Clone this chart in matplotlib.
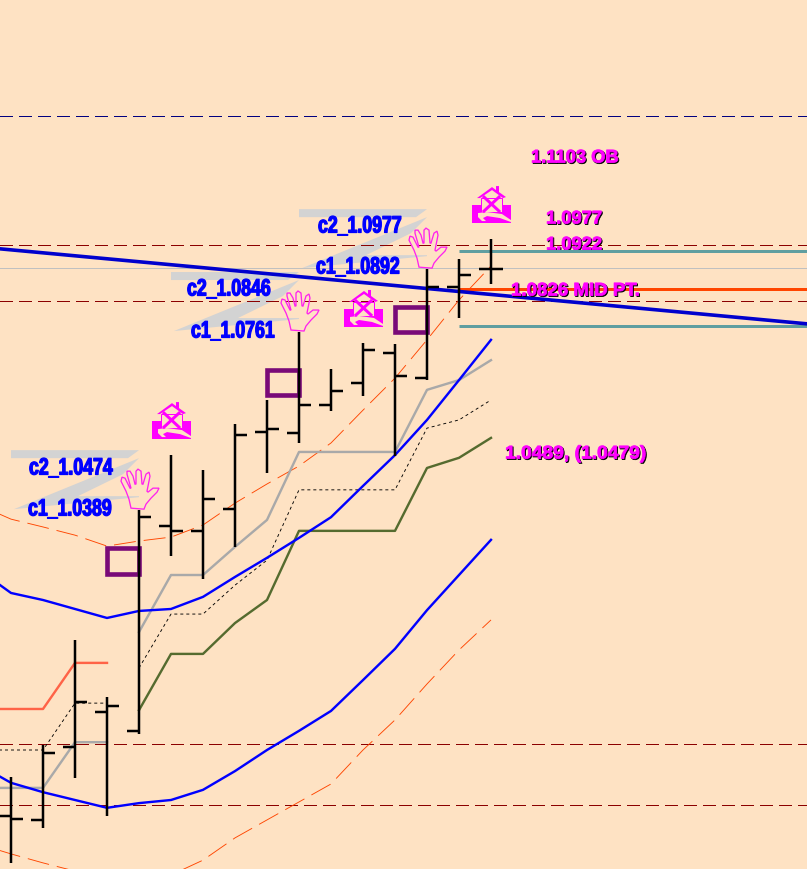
import matplotlib
matplotlib.use('Agg')

import matplotlib.pyplot as plt
import matplotlib.patheffects as pe
from matplotlib.patches import Polygon, Rectangle
from matplotlib.transforms import Affine2D
import numpy as np

plt.rcParams['lines.scale_dashes'] = False

W, H = 807, 869
PX = 0.72  # one pixel in points at dpi 100

# ohlc bars, index 0 is the leftmost bar
bar_idx = np.arange(16)
highs = [.9576, .9658, .9927, .9781, 1.0259, 1.0400, 1.0362, 1.0480, 1.0541, 1.0715, 1.0620, 1.0687, 1.0684, 1.0876, 1.0902, 1.0953]
lows = [.9356, .9445, .9573, .9476, .9686, 1.0142, 1.0083, 1.0165, 1.0354, 1.0431, 1.0513, 1.0551, 1.0398, 1.0592, 1.0751, 1.0838]
opens = [.9476, .9466, .9653, .9742, .9694, 1.0218, 1.0206, 1.0262, 1.0459, 1.0457, 1.0528, 1.0585, 1.0661, 1.0597, 1.0830, 1.0876]
closes = [.9468, .9637, .9768, .9758, 1.0241, 1.0206, 1.0288, 1.0452, 1.0467, 1.0528, 1.0564, 1.0669, 1.0602, 1.0830, 1.0861, 1.0876]

# indicator lines, first point is one bar off the chart
line_idx = np.arange(-1, 16)
blue_upper = [1.0106, 1.0047, 1.0029, 1.0006, .9983, 1.0001, 1.0006, 1.0037, 1.0088, 1.0137, 1.0188, 1.0241, 1.0321, 1.0400, 1.0490, 1.0592, 1.0695]
blue_lower = [.9607, .9561, .9537, .9517, .9497, .9509, .9517, .9543, .9591, .9645, .9694, .9745, .9824, .9904, 1.0003, 1.0093, 1.0183]
env_upper = [1.0272, 1.0236, 1.0216, 1.0195, 1.0167, 1.0180, 1.0190, 1.0221, 1.0277, 1.0326, 1.0372, 1.0431, 1.0515, 1.0597, 1.0695, 1.0797, 1.0884]
env_lower = [.9404, .9379, .9356, .9335, .9317, .9310, .9325, .9363, .9420, .9466, .9512, .9558, .9645, .9722, .9814, .9901, .9978]

# stepped lines have a break between bar 3 and bar 4
old_idx = np.arange(-1, 4)
new_idx = np.arange(4, 16)
gray_old = [.9548, .9548, .9548, .9665, .9665]
gray_new = [.9947, 1.0093, 1.0093, 1.0165, 1.0234, 1.0408, 1.0408, 1.0408, 1.0408, 1.0567, 1.0592, 1.0643]
dotted_old = [.9645, .9645, .9645, .9765, .9765]
dotted_new = [.9855, .9993, .9993, 1.0067, 1.0131, 1.0311, 1.0311, 1.0311, 1.0311, 1.0469, 1.0490, 1.0541]
tomato_old = [.9750, .9750, .9750, .9868, .9868]
green_new = [.9747, .9891, .9891, .9970, 1.0029, 1.0206, 1.0206, 1.0206, 1.0206, 1.0367, 1.0393, 1.0444]

# horizontal levels
navy_level = 1.1268
red_levels = [1.0938, 1.0794, .9660, .9504]
silver_level = 1.0879
teal_levels = [1.0922, 1.0730]
mid_level = 1.0826
trend_prices = [1.0928, 1.0736]

# purple boxes
box_idx = [4, 9, 13]
box_top = [1.0162, 1.0618, 1.0779]
box_bot = [1.0096, 1.0554, 1.0715]

# marks anchored on bars
hand_bars = [4, 9, 13]
house_bars = [5, 11, 15]

c_labels = [('c2_1.0474', 29, 468), ('c1_1.0389', 28, 509),
            ('c2_1.0846', 187, 289), ('c1_1.0761', 191, 331),
            ('c2_1.0977', 318, 226), ('c1_1.0892', 316, 267)]
level_labels = [('1.1103 OB', 531, 158), ('1.0977', 546, 219),
                ('1.0826 MID PT.', 511, 291), ('1.0489, (1.0479)', 505, 454)]

# icon outlines, pixels from the anchor, y goes down
hand_shape = [(-8, -2), (-10, -11), (-13, -19), (-18, -29), (-17, -33), (-14, -32), (-9, -22), (-8, -22),
              (-12, -36), (-12, -39), (-9, -39), (-6, -34), (-4, -26), (-3, -26), (-3, -39), (-1, -41),
              (2, -39), (3, -26), (4, -26), (7, -36), (10, -38), (11, -34), (8, -19), (9, -18),
              (14, -22), (20, -22), (18, -18), (12, -12), (7, -6), (5, -1)]
wedge_top = [(-128, -60), (0, -60), (-11, -52), (-128, -52)]
wedge_low = [(0, -52), (-125, -1), (0, -13), (0, -14), (-61, -14), (-16, -36)]
house_roof = [(-14, -25), (1, -36), (5, -33), (5, -37), (8, -37), (8, -31), (15, -26), (12, -25), (1, -33), (-11, -25)]
house_body = [(-10, -25), (11, -25), (11, -11), (-10, -11)]
house_road = [(-13, -10), (-4, -11), (11, -9), (20, -3), (20, -1), (9, -5), (-4, -7), (-8, -5), (-5, -2), (-9, -2), (-13, -6)]

BG = '#FEE2C3'


class Squeezed(pe.AbstractPathEffect):
    # draws the text path narrower, thicker and maybe shifted
    def __init__(self, sx=1.0, lw=0.0, color=None, shift=(0, 0)):
        super().__init__()
        self.sx, self.lw, self.color, self.shift = sx, lw, color, shift

    def draw_path(self, renderer, gc, tpath, affine, rgbFace):
        gc0 = renderer.new_gc()
        gc0.copy_properties(gc)
        col = self.color if self.color is not None else rgbFace
        gc0.set_foreground(col)
        gc0.set_linewidth(self.lw)
        tr = Affine2D().scale(self.sx, 1) + affine + Affine2D().translate(*self.shift)
        renderer.draw_path(gc0, tpath, tr, col)
        gc0.restore()


fig = plt.figure(figsize=(W / 100, H / 100), dpi=100, facecolor=BG)
ax = fig.add_axes([0, 0, 1, 1], facecolor=BG)
ax.set_xlim(-11 / 32, 796 / 32)
ax.set_ylim(1.1565 - H * 0.000256, 1.1565)
ax.axis('off')


def anchor(i, price, up=0):
    px, py = ax.transData.transform((i, price))
    return Affine2D().scale(1, -1).translate(px, py + up)


def magenta_label(txt, x, y, sx=1.0, z=8):
    effects = [Squeezed(sx, 0.6, (0, 0, 0), (1, -1)), Squeezed(sx, 0.6)]
    ax.text(x, y, txt, color='#FF00FF', fontsize=13.2, fontweight='bold', ha='left', va='center',
            family='Liberation Sans', transform=screen, zorder=z, path_effects=effects)


screen = Affine2D().scale(1, -1).translate(0, H)

for i in hand_bars:
    tr = anchor(i, highs[i])
    ax.add_patch(Polygon(wedge_top, closed=True, fc='#D3D3D3', ec='none', transform=tr, zorder=1))
    ax.add_patch(Polygon(wedge_low, closed=True, fc='#D3D3D3', ec='none', transform=tr, zorder=1))

xr = ax.get_xlim()
dash = (0, (13 * PX, 6 * PX))
long_dash = (0, (22 * PX, 8 * PX))
ax.axhline(navy_level, color='#000080', ls=dash, lw=1 * PX, antialiased=False, zorder=2)
for lvl in red_levels:
    ax.axhline(lvl, color='#8B0000', ls=dash, lw=1 * PX, antialiased=False, zorder=2)
ax.axhline(silver_level, color='#C0C0C0', lw=1 * PX, antialiased=False, zorder=2)

ax.plot(line_idx, env_upper, color='#FF4500', ls=long_dash, lw=0.9 * PX, zorder=3)
ax.plot(line_idx, env_lower, color='#FF4500', ls=long_dash, lw=0.9 * PX, zorder=3)

for xs, ys in [(old_idx, gray_old), (new_idx, gray_new)]:
    ax.plot(xs, ys, color='#A9A9A9', lw=2.4 * PX, zorder=3)
for xs, ys in [(old_idx, dotted_old), (new_idx, dotted_new)]:
    ax.plot(xs, ys, color='black', ls=(0, (3 * PX, 3 * PX)), lw=0.9 * PX, zorder=3)
ax.plot(old_idx, tomato_old, color='#FF6347', lw=2.4 * PX, zorder=3)
ax.plot(new_idx, green_new, color='#556B2F', lw=2.4 * PX, zorder=3)

ax.plot(line_idx, blue_upper, color='#0000FF', lw=2.4 * PX, zorder=4)
ax.plot(line_idx, blue_lower, color='#0000FF', lw=2.4 * PX, zorder=4)

ax.hlines(mid_level, 14, xr[1], color='#FF4500', lw=3 * PX, zorder=4)
ax.hlines(teal_levels, 14, xr[1], color='#5F9EA0', lw=3 * PX, zorder=5)
ax.plot(xr, trend_prices, color='#0000CD', lw=3.6 * PX, zorder=5)

for i, top, bot in zip(box_idx, box_top, box_bot):
    ax.add_patch(Rectangle((i - 1, bot), 1, top - bot, fc='none', ec='#7A0A78', lw=4.6 * PX, zorder=5))

ax.vlines(bar_idx, lows, highs, color='black', lw=2.5 * PX, zorder=6)
ax.hlines(opens, bar_idx - 0.375, bar_idx, color='black', lw=2.5 * PX, zorder=6)
ax.hlines(closes, bar_idx, bar_idx + 0.375, color='black', lw=2.5 * PX, zorder=6)

for i in hand_bars:
    ax.add_patch(Polygon(hand_shape, closed=True, fc='none', ec='#FF22EE', lw=1.3 * PX, transform=anchor(i, highs[i]), zorder=7))

for i in house_bars:
    tr = anchor(i, highs[i], up=16)
    ax.add_patch(Rectangle((-19, -18), 39, 18, fc='#FF00FF', ec='none', transform=tr, zorder=7))
    ax.add_patch(Polygon(house_body, closed=True, fc=BG, ec='#FF00FF', lw=1 * PX, transform=tr, zorder=7))
    ax.add_patch(Polygon(house_road, closed=True, fc=BG, ec='none', transform=tr, zorder=7))
    ax.add_patch(Polygon(house_roof, closed=True, fc='#FF00FF', ec='none', transform=tr, zorder=7))
    ax.plot([-7, 8], [-26, -12], color='#FF00FF', lw=3 * PX, transform=tr, zorder=7)
    ax.plot([8, -7], [-26, -12], color='#FF00FF', lw=3 * PX, transform=tr, zorder=7)

for txt, x, y in c_labels:
    ax.text(x, y, txt, color='#0000FF', fontsize=17, fontweight='bold', ha='left', va='center',
            family='Liberation Sans', transform=screen, zorder=8, path_effects=[Squeezed(0.75, 0.9)])

for txt, x, y in level_labels:
    if txt.startswith('1.0489'):
        magenta_label(txt, x, y, sx=1.05)
    elif 'MID' in txt:
        magenta_label(txt, x, y, sx=1.02)
    else:
        magenta_label(txt, x, y)

# this one sits under the teal line
magenta_label('1.0922', 546, 245, z=4.5)

fig.savefig('out.png', dpi=100, facecolor=BG)
